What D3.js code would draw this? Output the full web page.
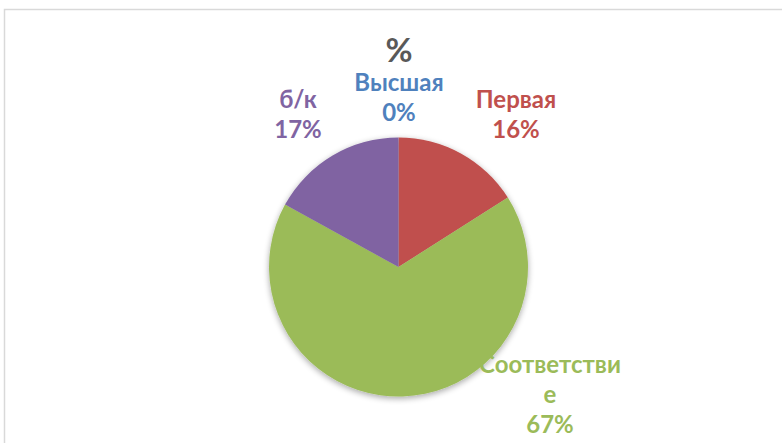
<!DOCTYPE html>
<html><head><meta charset="utf-8">
<script src="https://cdn.jsdelivr.net/npm/d3@7"></script>
<style>html,body{margin:0;padding:0;background:#fff;}svg{display:block;}</style>
</head><body><svg id="c" width="782" height="443"></svg>
<script>
const title = "%";
const categories = ["Высшая", "Первая", "Соответствие", "б/к"];
const values = [0, 16, 67, 17];
const labelLines = [["Высшая", "0%"], ["Первая", "16%"], ["Соответстви", "е", "67%"], ["б/к", "17%"]];
const colors = ["#4F81BD", "#C0504D", "#9BBB59", "#8064A2"];
const labelColors = ["#4F81BD", "#C0504D", "#9BBB59", "#8064A2"];
// layout: label centre (top line baseline) positions
const labelPos = [[399, 91], [516, 108], [550, 373], [298, 108]];

const svg = d3.select("#c");
const W = 782, H = 443;
const cx = 398.5, cy = 267, r = 129.5;

// frame
svg.append("rect").attr("x", 4.5).attr("y", 9.5).attr("width", W + 10).attr("height", H + 10)
  .attr("fill", "none").attr("stroke", "#d9d9d9").attr("stroke-width", 1.5);

const defs = svg.append("defs");
const f = defs.append("filter").attr("id", "sh").attr("x", "-20%").attr("y", "-20%").attr("width", "140%").attr("height", "140%");
f.append("feGaussianBlur").attr("in", "SourceAlpha").attr("stdDeviation", 3);
f.append("feOffset").attr("dx", 0).attr("dy", 2).attr("result", "b");
f.append("feComponentTransfer").append("feFuncA").attr("type", "linear").attr("slope", 0.35);
const m = f.append("feMerge");
m.append("feMergeNode");
m.append("feMergeNode").attr("in", "SourceGraphic");

svg.append("text").attr("x", 399).attr("y", 62).attr("text-anchor", "middle")
  .attr("font-family", "Lato, 'Open Sans', sans-serif").attr("font-weight", "bold")
  .attr("font-size", 33).attr("fill", "#595959").text(title);

const pie = d3.pie().sort(null).value(d => d.v);
const data = pie(categories.map((c, i) => ({c, v: values[i], i})));
const arc = d3.arc().innerRadius(0).outerRadius(r);

const g = svg.append("g").attr("transform", `translate(${cx},${cy})`).attr("filter", "url(#sh)");
g.selectAll("path").data(data).join("path")
  .attr("d", arc).attr("fill", d => colors[d.data.i]);

const lh = 30;
data.forEach(d => {
  const i = d.data.i;
  const t = svg.append("text").attr("text-anchor", "middle")
    .attr("font-family", "Lato, 'Open Sans', sans-serif").attr("font-weight", "bold")
    .attr("font-size", 24).attr("fill", labelColors[i]);
  labelLines[i].forEach((ln, k) => {
    t.append("tspan").attr("x", labelPos[i][0]).attr("y", labelPos[i][1] + k * lh).text(ln);
  });
});
</script></body></html>
